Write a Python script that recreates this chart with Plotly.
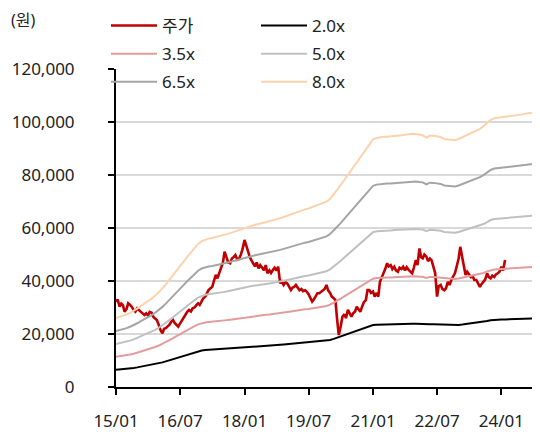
import plotly.graph_objects as go
import pandas as pd

# 월별 BPS (원), 2015/01 ~ 2024/11
bps = [3250, 3300, 3360, 3420, 3500, 3590, 3700, 3820, 3930, 4040, 4170, 4310,
       4470, 4650, 4840, 5050, 5270, 5500, 5720, 5930, 6150, 6360, 6560, 6750,
       6880, 6960, 7000, 7030, 7070, 7100, 7160, 7210, 7260, 7320, 7380, 7440,
       7500, 7560, 7620, 7650, 7690, 7730, 7780, 7820, 7860, 7900, 7960, 8020,
       8080, 8150, 8220, 8290, 8340, 8380, 8420, 8480, 8540, 8600, 8660, 8740,
       8880, 9080, 9300, 9530, 9770, 10010, 10260, 10510, 10760, 11000, 11250, 11480,
       11680, 11750, 11780, 11800, 11810, 11820, 11840, 11860, 11880, 11900, 11930, 11950,
       11930, 11900, 11880, 11760, 11860, 11850, 11820, 11790, 11700, 11680, 11660, 11640,
       11700, 11780, 11860, 11940, 12020, 12100, 12180, 12300, 12450, 12600, 12680, 12700,
       12720, 12740, 12760, 12780, 12800, 12830, 12860, 12900, 12930, 12950, 12960]

# 반월 주가 (천원), 2015/01 ~ 2024/03
price_k = [32.2, 33.0, 30.3, 31.5, 30.9, 28.4, 29.5, 31.6, 31.0, 30.3, 29.0, 28.4,
           29.7, 29.0, 28.2, 27.8, 27.2, 27.8, 27.0, 28.3, 28.0, 26.5, 25.8, 25.3,
           23.4, 21.5, 20.3, 22.0, 22.2, 22.8, 23.5, 24.6, 25.3, 24.2, 23.4, 22.8,
           24.0, 25.0, 26.5, 27.5, 28.5, 29.1, 28.5, 29.7, 30.0, 30.8, 31.6, 31.0,
           32.5, 33.5, 34.2, 35.5, 36.6, 37.2, 37.8, 40.0, 42.3, 41.0, 43.5, 45.4,
           47.0, 51.1, 48.5, 47.0, 46.7, 48.5, 49.0, 49.8, 48.0, 48.3, 50.0, 52.0,
           55.5, 53.0, 51.1, 49.0, 47.5, 46.7, 45.5, 47.0, 44.8, 46.0, 45.0, 44.0,
           46.0, 42.9, 44.0, 43.0, 44.2, 45.0, 44.0, 45.4, 39.1, 39.8, 38.5, 39.5,
           39.1, 38.0, 36.6, 37.5, 37.8, 38.5, 37.2, 36.5, 37.0, 36.2, 36.5, 36.0,
           35.0, 33.5, 32.2, 33.0, 34.5, 35.4, 35.4, 36.0, 36.6, 37.0, 38.5, 36.5,
           35.5, 34.1, 33.5, 32.8, 25.3, 19.6, 23.0, 26.5, 27.5, 26.0, 29.1, 28.0,
           26.5, 27.8, 28.5, 30.3, 29.0, 28.4, 30.5, 32.0, 32.8, 36.6, 36.6, 35.5,
           36.0, 34.1, 35.5, 34.1, 39.7, 41.0, 42.9, 44.5, 46.7, 45.5, 46.0, 44.5,
           45.4, 44.0, 43.5, 45.0, 44.5, 45.4, 44.0, 45.2, 44.2, 43.5, 42.9, 45.0,
           47.9, 46.0, 52.3, 49.0, 48.6, 50.0, 49.2, 47.5, 48.5, 47.9, 44.8, 43.0,
           34.1, 38.0, 38.5, 37.0, 36.5, 37.2, 39.7, 38.5, 40.5, 41.6, 43.0, 45.4,
           48.5, 52.9, 49.2, 46.0, 42.3, 43.5, 42.3, 41.5, 41.8, 40.4, 40.4, 39.0,
           37.8, 38.8, 39.7, 40.5, 42.9, 41.5, 41.0, 42.0, 41.5, 42.5, 42.9, 43.5,
           45.4, 44.0, 47.9]

multiples = [2.0, 3.5, 5.0, 6.5, 8.0]
band_colors = ["#000000", "#E39C9C", "#C0C0C0", "#A5A5A5", "#FDD2AC"]
# 범례 두 칸: 왼쪽(주가, 3.5x, 6.5x), 오른쪽(2.0x, 5.0x, 8.0x)
band_legends = ["legend2", "legend", "legend2", "legend", "legend2"]

band_dates = pd.date_range("2015-01-01", periods=len(bps), freq="MS")
price_dates = pd.date_range("2015-01-01", periods=len(price_k), freq="SMS")

fig = go.Figure()

fig.add_trace(go.Scatter(
    x=price_dates, y=[p * 1000 for p in price_k], name="주가",
    legend="legend", legendgroup="p",
    mode="lines", line=dict(color="#C00000", width=2.6)))

for m, c, lg in zip(multiples, band_colors, band_legends):
    fig.add_trace(go.Scatter(
        x=band_dates, y=[b * m for b in bps], name=f"{m:.1f}x",
        legend=lg, legendgroup=f"{m}",
        mode="lines", line=dict(color=c, width=2)))

# the page puts the figure 8px in from the top-left corner
W, H = 532, 426
font = "Noto Sans, Noto Sans CJK KR, sans-serif"
leg = dict(orientation="v", xref="container", yref="container",
           xanchor="left", yanchor="top", bgcolor="rgba(0,0,0,0)",
           font=dict(size=17), tracegroupgap=3, itemwidth=46)

fig.update_layout(
    width=W, height=H,
    margin=dict(l=108, r=0, t=61, b=47, autoexpand=False),
    plot_bgcolor="white", paper_bgcolor="white",
    font=dict(family=font, size=17, color="#222222"),
    showlegend=True,
    legend=dict(leg, x=98 / W, y=1.02),
    legend2=dict(leg, x=248 / W, y=1.02),
    annotations=[dict(
        text="(원)", xref="paper", yref="paper",
        x=(2 - 108) / 424, y=(379 - 12) / 318, xanchor="left", yanchor="middle",
        borderpad=0, showarrow=False, font=dict(size=16))],
)

fig.update_xaxes(
    range=["2015-01-01", "2024-11-25"],
    tick0="2015-01-01", dtick="M18", tickformat="%y/%m",
    showgrid=False, showline=True, linecolor="black", linewidth=2,
    ticks="outside", ticklen=6, tickwidth=2, tickcolor="black",
    ticklabelstandoff=12)

fig.update_yaxes(
    range=[0, 120000], dtick=20000, tickformat=",",
    showgrid=True, gridcolor="#D9D9D9", gridwidth=1.5,
    zeroline=False,
    showline=True, linecolor="black", linewidth=2,
    ticks="outside", ticklen=6, tickwidth=2, tickcolor="black",
    ticklabelstandoff=30)

fig.write_html("out.html")
